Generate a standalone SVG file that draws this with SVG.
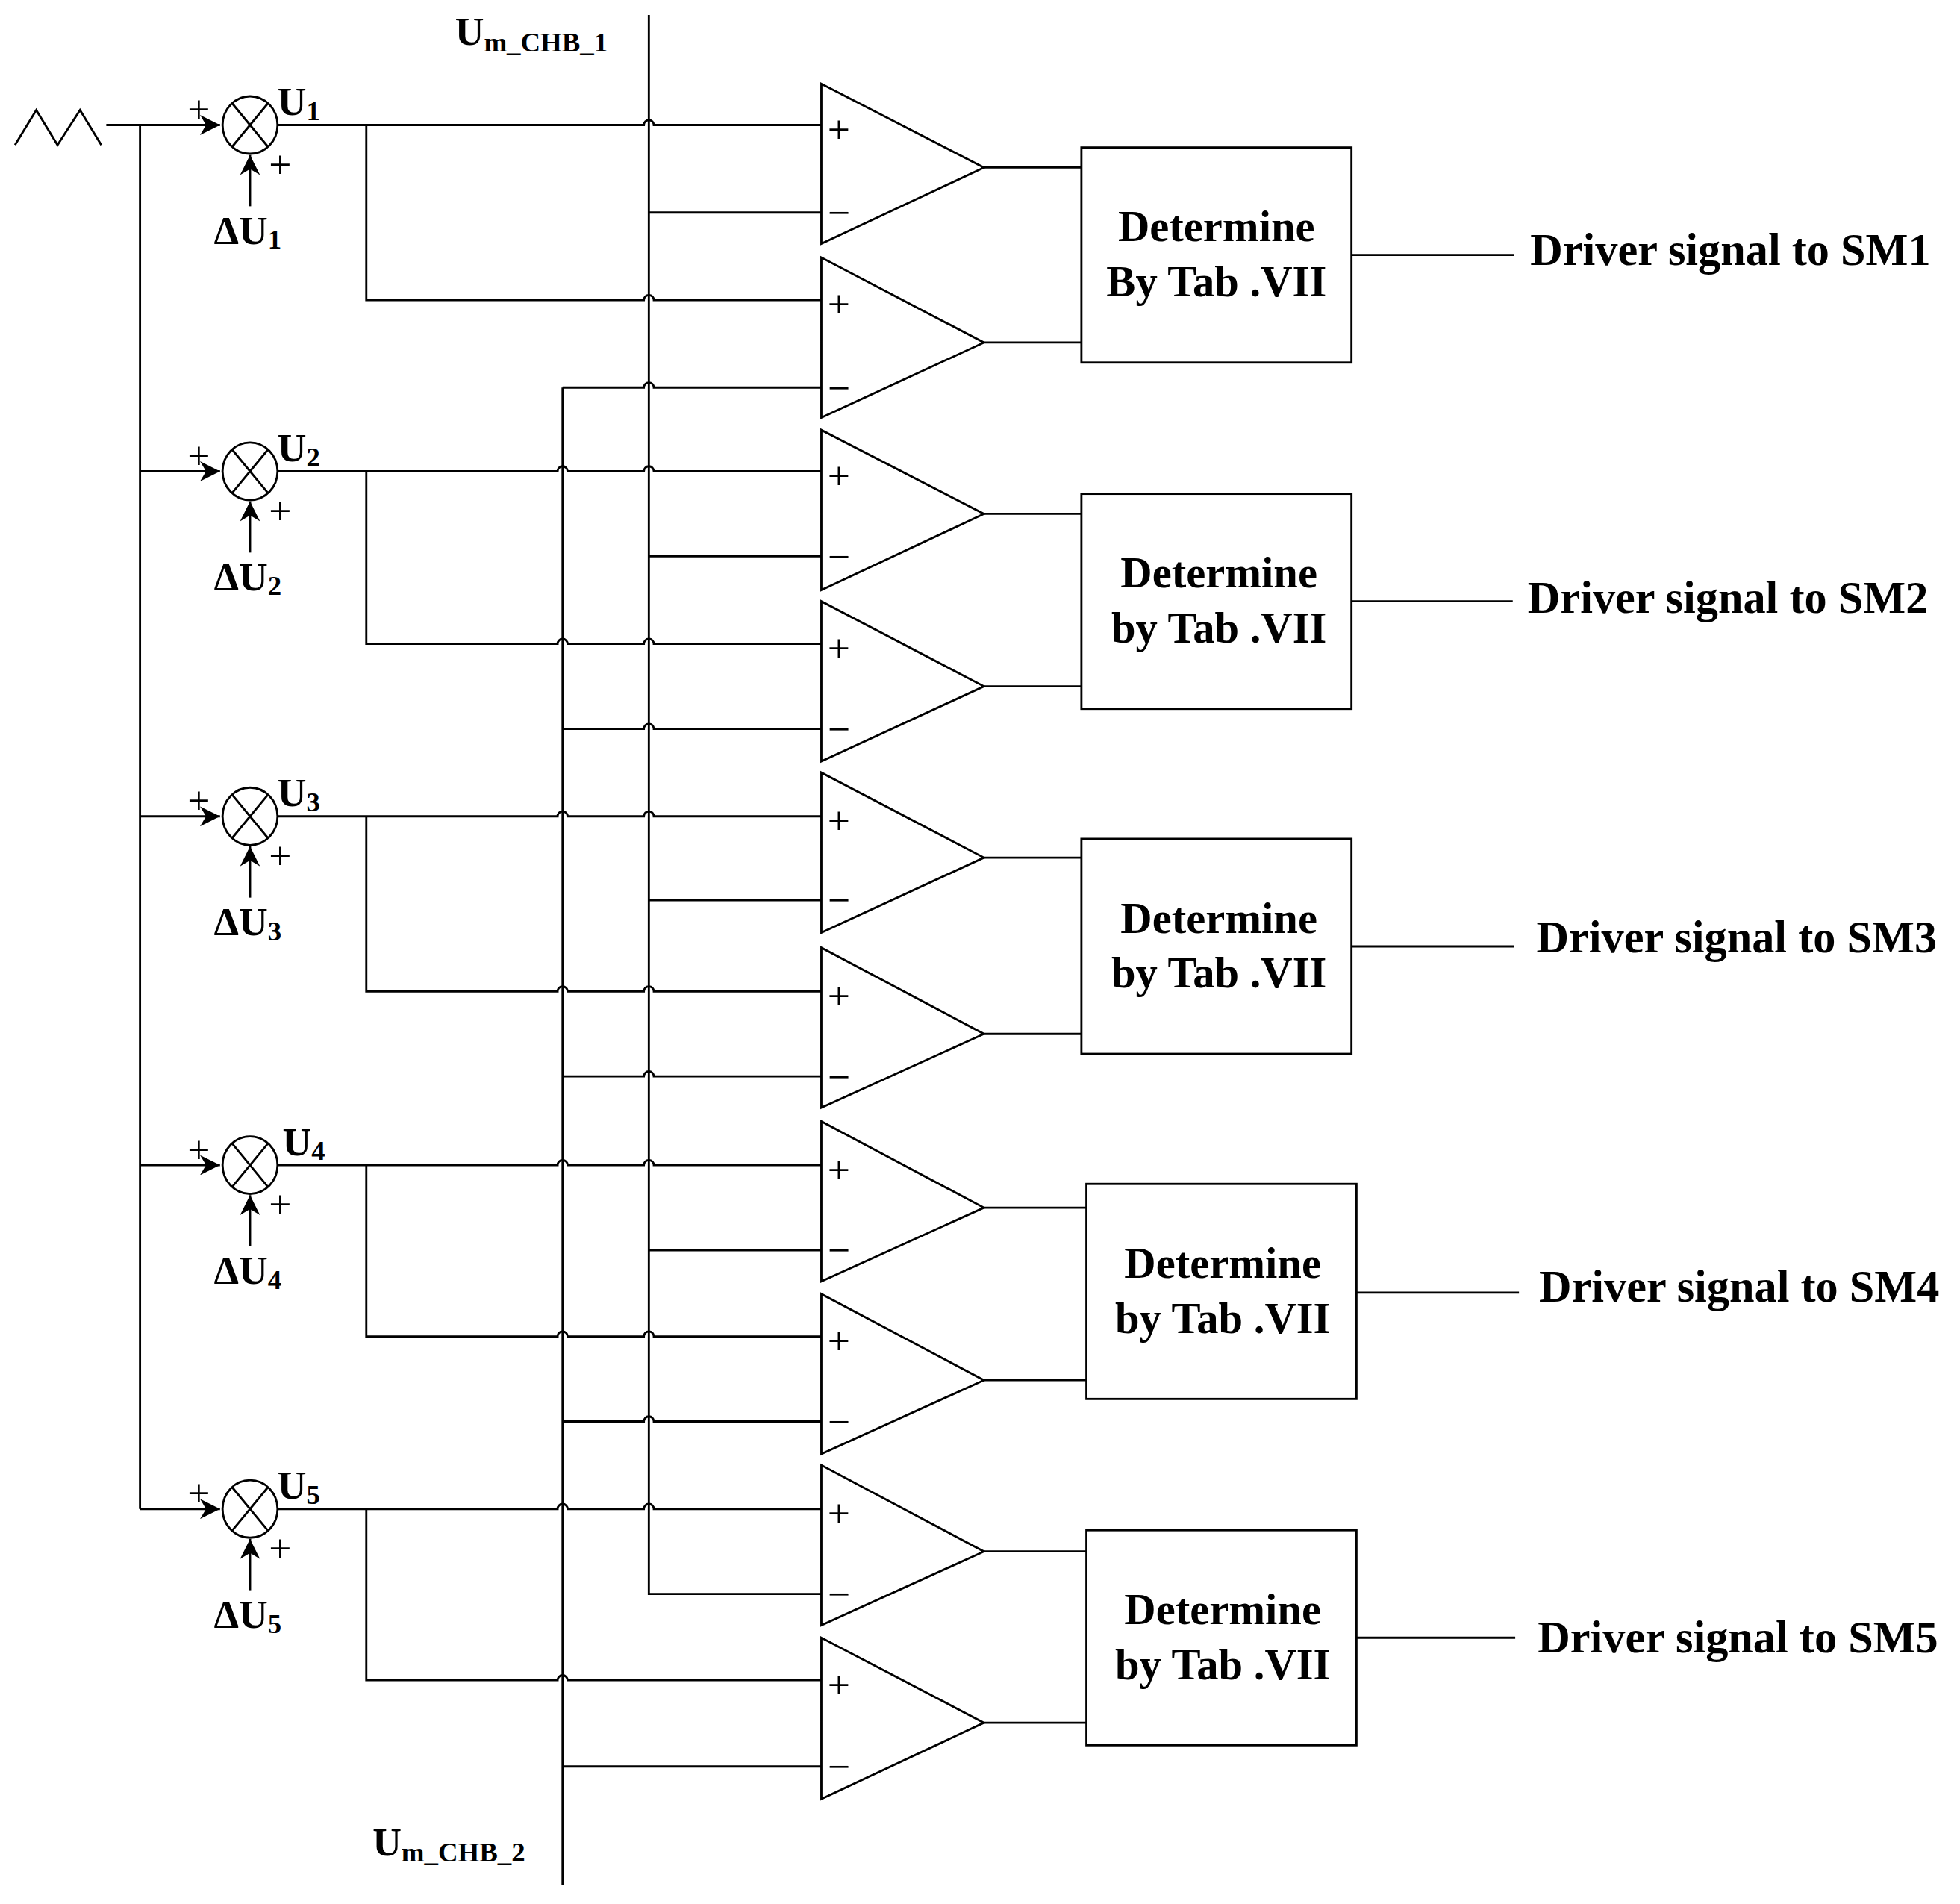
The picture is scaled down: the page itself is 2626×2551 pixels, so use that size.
<svg xmlns="http://www.w3.org/2000/svg" width="2626" height="2551" viewBox="0 0 2626 2551">
<style>
.w{fill:none;stroke:#000;stroke-width:1.7}
.t{font-family:"Liberation Serif",serif;font-weight:bold;fill:#000}
.b{font-size:35px;text-anchor:middle}
.d{font-size:36px}
.s{font-size:32px;font-weight:normal}
</style>
<defs><marker id="a" viewBox="0 0 10 10" refX="10" refY="5" markerWidth="20" markerHeight="16" markerUnits="userSpaceOnUse" orient="auto"><path d="M0,0L10,5L0,10L3,5z"/></marker></defs>
<rect width="2626" height="2551" fill="#fff"/>
<g transform="scale(1.675)">
<g id="connectors" class="w">
<path d="M12 116L29 88L46 116L64 88L81 116"/>
<path d="M85 100H176" marker-end="url(#a)"/>
<path d="M112 100V1207"/>
<path d="M112 377H176" marker-end="url(#a)"/>
<path d="M112 653H176" marker-end="url(#a)"/>
<path d="M112 932H176" marker-end="url(#a)"/>
<path d="M112 1207H176" marker-end="url(#a)"/>
<path d="M519 12V1275H657"/>
<path d="M450 310V1508"/>
<path d="M450 310H515a4 4 0 0 1 8 0H657"/>
<path d="M222 100H515a4 4 0 0 1 8 0H657"/>
<path d="M293 100V240H515a4 4 0 0 1 8 0H657"/>
<path d="M519 170H657"/>
<path d="M222 377H446a4 4 0 0 1 8 0H515a4 4 0 0 1 8 0H657"/>
<path d="M293 377V515H446a4 4 0 0 1 8 0H515a4 4 0 0 1 8 0H657"/>
<path d="M519 445H657"/>
<path d="M450 583H515a4 4 0 0 1 8 0H657"/>
<path d="M222 653H446a4 4 0 0 1 8 0H515a4 4 0 0 1 8 0H657"/>
<path d="M293 653V793H446a4 4 0 0 1 8 0H515a4 4 0 0 1 8 0H657"/>
<path d="M519 720H657"/>
<path d="M450 861H515a4 4 0 0 1 8 0H657"/>
<path d="M222 932H446a4 4 0 0 1 8 0H515a4 4 0 0 1 8 0H657"/>
<path d="M293 932V1069H446a4 4 0 0 1 8 0H515a4 4 0 0 1 8 0H657"/>
<path d="M519 1000H657"/>
<path d="M450 1137H515a4 4 0 0 1 8 0H657"/>
<path d="M222 1207H446a4 4 0 0 1 8 0H515a4 4 0 0 1 8 0H657"/>
<path d="M293 1207V1344H446a4 4 0 0 1 8 0H657"/>
<path d="M450 1413H657"/>
<path d="M787 134H865M787 274H865M787 411H865M787 549H865M787 686H865M787 827H865M787 966H869M787 1104H869M787 1241H869M787 1378H869"/>
<path d="M1081 204H1211M1081 481H1210M1081 757H1211M1085 1034H1215M1085 1310H1212"/>
<path d="M200 165V124" marker-end="url(#a)"/>
<path d="M200 442V401" marker-end="url(#a)"/>
<path d="M200 718V677" marker-end="url(#a)"/>
<path d="M200 997V956" marker-end="url(#a)"/>
<path d="M200 1272V1231" marker-end="url(#a)"/>
</g>
<g id="summers" class="w">
<g id="sum1"><ellipse cx="200" cy="100" rx="22" ry="23"/><path d="M186 83L214 117M214 83L186 117"/></g>
<g id="sum2"><ellipse cx="200" cy="377" rx="22" ry="23"/><path d="M186 360L214 394M214 360L186 394"/></g>
<g id="sum3"><ellipse cx="200" cy="653" rx="22" ry="23"/><path d="M186 636L214 670M214 636L186 670"/></g>
<g id="sum4"><ellipse cx="200" cy="932" rx="22" ry="23"/><path d="M186 915L214 949M214 915L186 949"/></g>
<g id="sum5"><ellipse cx="200" cy="1207" rx="22" ry="23"/><path d="M186 1190L214 1224M214 1190L186 1224"/></g>
</g>
<g id="comparators" class="w">
<path d="M657 67V195L787 134Z"/><path d="M657 206V334L787 274Z"/>
<path d="M657 344V472L787 411Z"/><path d="M657 481V609L787 549Z"/>
<path d="M657 618V746L787 686Z"/><path d="M657 758V886L787 827Z"/>
<path d="M657 897V1025L787 966Z"/><path d="M657 1035V1163L787 1104Z"/>
<path d="M657 1172V1300L787 1241Z"/><path d="M657 1310V1439L787 1378Z"/>
</g>
<g class="t s">
<text x="662" y="114">+</text><text x="662" y="181">−</text>
<text x="662" y="254">+</text><text x="662" y="321">−</text>
<text x="662" y="391">+</text><text x="662" y="456">−</text>
<text x="662" y="529">+</text><text x="662" y="594">−</text>
<text x="662" y="667">+</text><text x="662" y="731">−</text>
<text x="662" y="807">+</text><text x="662" y="872">−</text>
<text x="662" y="946">+</text><text x="662" y="1011">−</text>
<text x="662" y="1083">+</text><text x="662" y="1148">−</text>
<text x="662" y="1221">+</text><text x="662" y="1286">−</text>
<text x="662" y="1358">+</text><text x="662" y="1424">−</text>
</g>
<g class="t s">
<text x="150" y="98">+</text><text x="215" y="142">+</text>
<text x="150" y="375">+</text><text x="215" y="419">+</text>
<text x="150" y="651">+</text><text x="215" y="695">+</text>
<text x="150" y="930">+</text><text x="215" y="974">+</text>
<text x="150" y="1205">+</text><text x="215" y="1249">+</text>
</g>
<g class="t" font-size="32">
<text x="222" y="92">U<tspan font-size="22" dy="4">1</tspan></text>
<text x="222" y="369">U<tspan font-size="22" dy="4">2</tspan></text>
<text x="222" y="645">U<tspan font-size="22" dy="4">3</tspan></text>
<text x="226" y="924">U<tspan font-size="22" dy="4">4</tspan></text>
<text x="222" y="1199">U<tspan font-size="22" dy="4">5</tspan></text>
<text x="171" y="195">ΔU<tspan font-size="22" dy="4">1</tspan></text>
<text x="171" y="472">ΔU<tspan font-size="22" dy="4">2</tspan></text>
<text x="171" y="748">ΔU<tspan font-size="22" dy="4">3</tspan></text>
<text x="171" y="1027">ΔU<tspan font-size="22" dy="4">4</tspan></text>
<text x="171" y="1302">ΔU<tspan font-size="22" dy="4">5</tspan></text>
<text x="364" y="36">U<tspan font-size="22" dy="5">m_CHB_1</tspan></text>
<text x="298" y="1484">U<tspan font-size="22" dy="5">m_CHB_2</tspan></text>
</g>
<g id="box1"><rect class="w" x="865" y="118" width="216" height="172"/><text class="t b" x="973" y="193">Determine</text><text class="t b" x="973" y="237">By Tab .VII</text></g>
<g id="box2"><rect class="w" x="865" y="395" width="216" height="172"/><text class="t b" x="975" y="470">Determine</text><text class="t b" x="975" y="514">by Tab .VII</text></g>
<g id="box3"><rect class="w" x="865" y="671" width="216" height="172"/><text class="t b" x="975" y="746">Determine</text><text class="t b" x="975" y="790">by Tab .VII</text></g>
<g id="box4"><rect class="w" x="869" y="947" width="216" height="172"/><text class="t b" x="978" y="1022">Determine</text><text class="t b" x="978" y="1066">by Tab .VII</text></g>
<g id="box5"><rect class="w" x="869" y="1224" width="216" height="172"/><text class="t b" x="978" y="1299">Determine</text><text class="t b" x="978" y="1343">by Tab .VII</text></g>
<g class="t d">
<text x="1224" y="212">Driver signal to SM1</text>
<text x="1222" y="490">Driver signal to SM2</text>
<text x="1229" y="762">Driver signal to SM3</text>
<text x="1231" y="1041">Driver signal to SM4</text>
<text x="1230" y="1322">Driver signal to SM5</text>
</g>
</g>
</svg>
